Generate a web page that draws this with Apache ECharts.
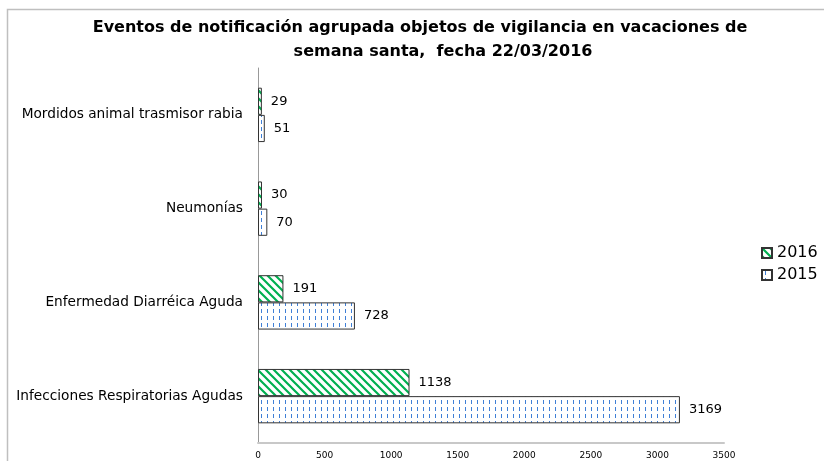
<!DOCTYPE html>
<html>
<head>
<meta charset="utf-8">
<script src="https://cdn.jsdelivr.net/npm/echarts@6/dist/echarts.min.js"></script>
<style>
    html, body { margin: 0; padding: 0; background: #fff; }
    #chart { width: 824px; height: 461px; }
</style>
</head>
<body>
<div id="chart"></div>
<script>
// categories, bottom to top
let categories = ['Infecciones Respiratorias Agudas', 'Enfermedad Diarréica Aguda', 'Neumonías', 'Mordidos animal trasmisor rabia'];
let values2016 = [1138, 191, 30, 29];
let values2015 = [3169, 728, 70, 51];
let xTicks = [0, 500, 1000, 1500, 2000, 2500, 3000, 3500];

// green diagonal hatch
function makeHatch() {
    let c = document.createElement('canvas');
    c.width = 8; c.height = 8;
    let ctx = c.getContext('2d');
    ctx.fillStyle = '#fff';
    ctx.fillRect(0, 0, 8, 8);
    ctx.strokeStyle = '#00b050';
    ctx.lineWidth = 2.2;
    ctx.beginPath();
    // "\" direction stripes
    ctx.moveTo(-2, -2); ctx.lineTo(10, 10);
    ctx.moveTo(-2, 6); ctx.lineTo(2, 10);
    ctx.moveTo(6, -2); ctx.lineTo(10, 2);
    ctx.stroke();
    return c;
}

// blue small dashes
function makeDots() {
    let c = document.createElement('canvas');
    c.width = 6; c.height = 7;
    let ctx = c.getContext('2d');
    ctx.fillStyle = '#fff';
    ctx.fillRect(0, 0, 6, 7);
    ctx.fillStyle = '#3f7fd6';
    ctx.fillRect(3, 1, 1, 4);
    return c;
}

var chart = echarts.init(document.getElementById('chart'));

let hatch = {image: makeHatch(), repeat: 'repeat'};
let dots = {image: makeDots(), repeat: 'repeat'};
let font = 'DejaVu Sans';
let titleStyle = {fontFamily: font, fontSize: 16, fontWeight: 'bold', color: '#000'};

let option = {
    animation: false,
    textStyle: {fontFamily: font},
    title: [
        {
            text: 'Eventos de notificación agrupada objetos de vigilancia en vacaciones de',
            left: 420,
            textAlign: 'center',
            top: 20,
            padding: 0,
            textStyle: titleStyle
        },
        {
            text: 'semana santa,  fecha 22/03/2016',
            left: 443,
            textAlign: 'center',
            top: 44,
            padding: 0,
            textStyle: titleStyle
        }
    ],
    legend: {
        orient: 'vertical',
        left: 756,
        top: 240,
        data: ['2016', '2015'],
        icon: 'rect',
        itemWidth: 10,
        itemHeight: 10,
        itemGap: 6,
        textStyle: {fontSize: 16, color: '#000', fontFamily: font}
    },
    grid: {left: 258, right: 100, top: 68, bottom: 18},
    xAxis: {
        type: 'value',
        min: 0,
        max: 3500,
        interval: 500,
        splitLine: {show: false},
        axisLine: {show: true, lineStyle: {color: '#c8c8c8', width: 2}},
        axisTick: {show: false},
        axisLabel: {
            fontSize: 9,
            color: '#000',
            margin: 8,
            formatter: (v) => xTicks.indexOf(v) >= 0 ? String(v) : ''
        }
    },
    yAxis: {
        type: 'category',
        data: categories,
        axisLine: {show: true, lineStyle: {color: '#999', width: 1}},
        axisTick: {show: false},
        axisLabel: {fontSize: 13.7, color: '#000', margin: 15}
    },
    series: [
        {
            name: '2016',
            type: 'bar',
            data: values2016,
            barGap: '0%',
            barCategoryGap: '42%',
            itemStyle: {color: hatch, borderColor: '#333', borderWidth: 1},
            label: {show: true, position: 'right', distance: 9, fontSize: 13, color: '#000'}
        },
        {
            name: '2015',
            type: 'bar',
            data: values2015,
            barGap: '0%',
            barCategoryGap: '42%',
            itemStyle: {color: dots, borderColor: '#333', borderWidth: 1},
            label: {show: true, position: 'right', distance: 9, fontSize: 13, color: '#000'}
        }
    ],
    graphic: [
        {
            type: 'polyline',
            shape: {points: [[7.5, 470], [7.5, 9.5], [830, 9.5]]},
            style: {stroke: '#bfbfbf', lineWidth: 1.5, fill: null},
            silent: true
        }
    ]
};

chart.setOption(option);
</script>
</body>
</html>
